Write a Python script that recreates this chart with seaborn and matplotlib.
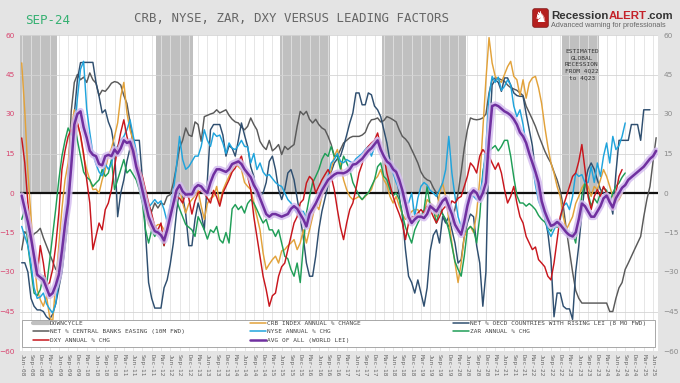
import numpy as np
import pandas as pd
import matplotlib
matplotlib.use("Agg")
import matplotlib.pyplot as plt
import matplotlib.patches as mpatches
import matplotlib.transforms as mtransforms
from matplotlib.lines import Line2D
from matplotlib.legend import Legend
from matplotlib import font_manager as fm
import seaborn as sns

# ---------------- DATA (monthly, starting Jun-2008) ----------------
START_MONTH = "2008-06"
END_MONTH = "2025-07"

DOWNCYCLE_PERIODS = [("2008-06", "2009-05"), ("2012-02", "2013-01"), ("2015-06", "2016-09"),
                     ("2018-03", "2020-05"), ("2023-01", "2023-12")]
DOWNCYCLE_LEVEL = 60

central_banks = [-21.6,-14.7,-16,-17.8,-15.5,-14.7,-13.4,-17,-20,-23,
 -26,-29,-30,-27,-15,5,31,42,45,43,
 44,42,45.6,43,41.7,37,39,38.6,40,41.7,
 42.3,42,41,37,34,27,18,11.4,9,5.7,
 0,-5,-7,-3.8,-5.7,-3.8,-4.4,-1.3,-0.6,3.8,
 10,17,20,24.7,22,21.5,27,26,19.6,29,
 29.5,30,30.4,31.6,30.4,31,31.6,29.5,28,27,
 26.6,25,24,25.3,28.5,26,24,19.6,17.7,16.5,
 20,16,17,18.4,14.6,17.7,16.5,17.5,18.4,25.3,
 31,29.7,31,28,26.6,28,26,24.7,24,21.5,
 18.4,14,14,16.5,19,20,21,21.5,21.5,21.5,
 22,23,26,27.8,28,28.5,27,27.5,29,28.5,
 27.8,27,24,21.5,20.5,19,16.5,14,11.4,8,
 6,5,4.5,2,0,-4,-8,-10.5,-12.7,-11.4,
 -6,0,8,17,24,28.5,28,27.8,28,28.5,
 30,38,43,43.7,43.5,43,42.4,41,40,39.5,
 39,38,37,33,30.5,28,25.3,22,19,16,
 13.5,11.4,8,5,1,-5,-14,-22,-30,-37,
 -40,-41.8,-41.8,-41.8,-41.8,-41.8,-41.8,-41.8,-41.8,-41.8,
 -45,-45,-40,-36,-34,-29,-26.6,-24,-21.5,-19,
 -16.5,-9,-2.5,2.5,12,21]

oecd_rising = [-26.5,-26.5,-30,-40,-43,-44.4,-44.4,-45,-47,-48,
 -46,-42,-36,-30,-20,-10,11,30,43,49.5,
 49.6,49.6,49.6,49.6,42,36.7,30.4,31.6,27,24,
 17,-9,0,5,12,17,20,20,20,5,
 -15,-34,-40,-43.7,-43.7,-43.7,-36,-33,-27,-19,
 -7.6,2,-1,-8,-20,-20,-10,-3.8,-8,-14,
 5,24,26,26,26,22,14,18,17,14,
 20,26.6,22,17.7,10,6.3,-1.3,-1,0,4,
 12,14,8.9,1.3,-2.5,1.3,7.6,8.9,5,-2,
 -9,-17,-26.6,-31.6,-31.6,-24,-14,-7,-2,3,
 8,11.4,13,14,17.7,22,26.6,30.4,38,38,
 33.5,33.5,38,37.3,33,31.6,29,24,19,12,
 10,8.9,-1.3,-9,-21.5,-31.6,-34,-38,-33,-38,
 -43,-36,-22,-16,-14,-19,-9,-11.4,-9,-14,
 -19,-26.6,-25.3,-16.5,-11.4,-8,-9,-20,-26.6,-43,
 -30,20,41,43,42,38.6,43.7,43.7,41,38,
 37,36.7,36.7,30,24,18,8,0,-5,-9,
 -15,-25,-47,-38,-38,-43,-44,-44,-48,-30,
 -20,-7.6,3.8,8.9,11.4,9,5,1.3,0,-1.3,
 -2.5,-8,7.6,20,20,20,20,26,26,26,
 20,31.6,31.6,31.6]

nyse = [-12.7,-16.5,-20,-26.6,-36,-40,-39.5,-38,-42,-44,
 -45.6,-42,-32,-22,-10,1,14,23,36,47,
 50,32,23,15,11,8,6.5,11,9,11,
 16.5,17.7,20,21.5,24,27.8,22,16,7,-2,
 -6,-5.5,-4,-2.5,-4,-3,-6.3,-11,-5,1,
 10,21.5,12.7,9,10,12,14,14,17.7,24,
 20,17.7,22.8,21.5,22,19,15,19,17,16.5,
 18,20,17.7,17.5,11.4,15,8.9,11.4,8,6.5,
 7,5.5,4,3,2.5,0,-2.5,-3.8,-6,-7.6,
 -7,-7,-10,-7,-6,-4,-1.5,2,4,6.3,
 11.4,12.7,15,12,11.5,12.7,12,11.4,13,14,
 15,16.5,17.7,14,17.5,20,17,14,11.4,9.5,
 7.6,4,1.5,-1.3,-3.8,-3.8,0,-9,-2,2.5,
 4,3,1,0,-1.3,1.3,3.8,8.9,21.5,7.6,
 -1.3,-9,-12.7,-10,-3,-1,-1.3,-2.5,-1,6.3,
 17.7,36.7,44.3,42,44,39,40.5,43,41,33,
 29,31.6,26,18,14.5,11,3,-3,-6,-9,
 -14,-16.5,-14,-11.4,-10,-5,-3.8,-6.3,-1.3,7.6,
 6.3,7,3.8,4,10,4,11.4,6.3,14,19,
 11.4,21.5,16.5,18,21.5,26.6]

crb = [49.4,31,8,-9,-25,-36.7,-40.5,-43,-39,-47,
 -49,-34,-20,-6,5,11.4,24,31.6,26.6,21.5,
 14,8.9,5,1.3,1.5,0,5,8.9,14,17,
 21.5,26.6,36.7,42,30.4,24,20,14,8,0,
 -6,-12,-14,-13,-12,-12,-14,-16,-9,-4,
 1,2.5,-3.8,-7.6,-4,-2.5,-1,1,-5,-10,
 -4,-2,-1.3,2.5,-4,1,3.8,6.3,8.9,11.4,
 10,8.9,4,2.5,1.3,-3.8,-9,-14,-22.8,-29,
 -27,-25.3,-24,-26.6,-22,-21.5,-20,-19,-17.7,-21.5,
 -19,-14,-19,-14,-9,-4,-6.3,-1.3,2,3.8,
 8.9,14,16.5,11,5,1.3,-1.3,-2.5,-2,-1.3,
 -2.5,-1.3,0,1.3,5,6.3,8.9,5,3,-1.3,
 -3.8,-1.3,-5,-8,-10,-9,-7,-6.3,-6.3,-9,
 -7.6,-2.5,-3.8,-5,-9,0,3.8,-1.3,-10,-19,
 -26.6,-34,-26.6,-16.5,-14,-12.7,-15,-7.6,5,24,
 43,59,49.4,44.3,43,42,45,48,50,44.3,
 43,37,43,36,41.8,43.7,44.3,40,34,25.3,
 17.7,11.4,7.6,2.5,-1.3,-9,-14,-11.4,-9,-4,
 -1.3,2,3.8,2.5,-1.3,2.5,1.3,5,8.9,6.3,
 2.5,-1.3,-3.8,-2.5,0]

dxy = [20.9,11.4,-3.8,-16.5,-26.6,-31.6,-20,-26.6,-35.4,-34,
 -29,-20,-7.6,8.9,16,21.5,24,22,26.6,22,
 15,5,-3.8,-21.5,-16.5,-11.4,-14,-6.3,-3.8,1.3,
 10,17,23,27.8,21.5,17,14,11.4,8.9,6.3,
 1.3,-3.8,-8,-12.7,-14,-11.4,-20,-14,-7,-5,
 -1.3,-2,-3.8,0,-2,-8,-3,0,1,0,
 -2,-3.8,1,-1.5,-5,0,2.5,5,8,9.5,
 12,14,9,6.3,1.3,-9,-16.5,-24,-31.6,-36.7,
 -43,-39,-38,-31.6,-28,-26.6,-21.5,-16.5,-11.4,-9,
 -3.8,-2.5,3.8,6.3,5,0,2.5,5,7,8.9,
 6.3,1.3,-6.3,-13,-17.7,-11.4,-6.3,-3.8,1.5,7.6,
 11,16,17.7,19,20,22.8,17.7,14,7.6,3,
 -1.3,-5,-8,-11.4,-17.7,-11.4,-9,-9,-7.6,-6.3,
 -7.6,-5,-6.3,-9,-11.4,-9,-6.3,-5,-6.3,-3,
 -3.8,-2,-1.3,2.5,6.3,11.4,10,7.6,14,16.5,
 15,14,11.4,9,11.4,7.6,1.3,-3.8,-1.3,2.5,
 -3.8,-9,-11.4,-16.5,-19,-21.5,-20.5,-25.3,-26.6,-28,
 -31.6,-33,-26.6,-17.7,-9,-5,-1.3,2.5,6.3,7.6,
 12,18.4,9,-1.3,-6.3,-1.3,1.3,-1.3,2.5,0,
 -2.5,-6.3,0,6.3,8.9]

zar = [-10,-6.3,-20,-29,-38,-39,-36.7,-31.6,-35.4,-26,
 -16,-6,5,14,20,24.7,22,26.6,20,14,
 8,6,5,2.5,3.8,5,8.9,6.3,7.6,12.7,
 1.3,5,8.9,12.7,7.6,8.9,7,5,1.3,-3.8,
 -14,-19,-14,-16.5,-14,-16.5,-20,-14,-9,-4,
 -2.5,-6,-9,-12,-13,-14,-16.5,-9,-11.4,-14,
 -17.5,-14,-15,-12.7,-17.7,-19,-15,-19,-6,-4.4,
 -6.3,-5,-7.6,-4,-2.5,-3.8,-6.3,-9,-11.4,-10,
 -14,-14,-16.5,-14,-19,-24,-25,-29,-31.6,-26.6,
 -34,-20,-7.6,-1.3,3.8,6.3,8.9,12.7,15,13.9,
 17.7,14,14,9,14,11.4,8.9,4,1.5,-1,
 -2.5,-1,0,2.5,5,10,11.4,6.3,5,1.3,
 -1,0,-2.5,-8,-13,-16,-19,-14,-11.4,-9,
 -6.3,2.5,-5,-6,-11.4,-6.3,-8,-10,-14,-20,
 -26,-29,-31.6,-24,-14,-12.7,-14,-19,-9,8,
 14,16,17,18,16,17.7,20,20,14,6,
 -1,-3.8,-3.8,-5,-4,-5,-6.3,-8.5,-10,-11,
 -13,-14.5,-12,-13,-12,-13,-14,-16.5,-15,-19,
 -9,-1,3.8,0,-5,-2,-3.8,0,2,1,
 -3.8,0,2.5,3.8,6,7.6]

avg_world_lei = [-1,-6,-11,-17,-24,-31,-32,-33,-36,-39,
 -38,-35,-31,-22,-12,-4,10,26,30,31,
 25,21,16,14.5,14,11,10.5,14,14.5,14,
 16.5,15,17,20,19,19.5,16,10,6,1,
 -4,-9,-12,-14.5,-15,-16,-18,-14,-9,-4,
 1,3,0.6,-0.6,-0.5,-0.5,2,3,2.5,1,
 0,4,7,9,9,8.5,8,9,11,11.5,
 12,11,9,7.5,6,3,1,-2,-5,-8,
 -9,-8,-8,-8.5,-9,-8.5,-8,-6,-5,-6,
 -8,-10,-12.7,-8,-6,-4,-1.5,1,3,5,
 6,7,7.6,7.6,7.5,8,9,10.8,11,12,
 13,14.5,16,17,18.5,20,16.5,14,12,11,
 9,8,5,1,-4,-9,-11.4,-10,-9,-9,
 -9.5,-8,-5,-6,-7,-5,-3,-2,-5,-8,
 -12,-14,-15.8,-11,-5,-0.5,1,0,-2.5,0,
 4,20,33,33.5,33,32,31,30.4,29.5,28,
 26,23,21.5,19,15,11.5,8,4,-3,-7,
 -10,-12.5,-12,-11,-12,-13.5,-15,-16,-16.5,-15,
 -10,-4,-5,-7,-9,-9,-7,-5,-2,-1,
 -3.5,-5.5,-2,0,2,3,5,6,7,8,
 9,10,11.5,13,14,16]

SERIES = [
    ("NET % CENTRAL BANKS EASING (10M FWD)", central_banks, "#5a5a5a"),
    ("NET % OECD COUNTRIES WITH RISING LEI (8 MO FWD)", oecd_rising, "#2f4f70"),
    ("CRB INDEX ANNUAL % CHANGE", crb, "#e2a23a"),
    ("ZAR ANNUAL % CHG", zar, "#1f9e57"),
    ("NYSE ANNUAL % CHG", nyse, "#20a4dc"),
    ("DXY ANNUAL % CHG", dxy, "#c8161d"),
]
AVG_LABEL = "AVG OF ALL (WORLD LEI)"
AVG_COLOR = "#7030a0"

TITLE = "CRB, NYSE, ZAR, DXY VERSUS LEADING FACTORS"
DATE_TAG = "SEP-24"
NOTE = "ESTIMATED\nGLOBAL\nRECESSION\nFROM 4Q22\nto 4Q23"

# ---------------- build frame ----------------
months = pd.period_range(START_MONTH, END_MONTH, freq="M")
n = len(months)
idx = np.arange(n)
labels = [p.strftime("%b-%y") for p in months]

def pad(vals):
    a = np.full(n, np.nan)
    a[:len(vals)] = vals
    return a

df = pd.DataFrame({"m": idx})
for name, vals, _ in SERIES:
    df[name] = pad(vals)
df[AVG_LABEL] = pad(avg_world_lei)
down = np.zeros(n)
for s, e in DOWNCYCLE_PERIODS:
    a = months.get_loc(pd.Period(s, "M"))
    b = months.get_loc(pd.Period(e, "M"))
    down[a:b + 1] = DOWNCYCLE_LEVEL
df["DOWNCYCLE"] = down

# ---------------- figure ----------------
sns.set_style("white")
plt.rcParams["font.family"] = ["DejaVu Sans"]
MONO = "DejaVu Sans Mono"

W, H = 680, 383
fig = plt.figure(figsize=(W / 100, H / 100), dpi=100, facecolor="#e4e4e4")
ax = fig.add_axes([20 / W, 1 - 351 / H, 638 / W, 316 / H])
ax.set_facecolor("white")

# downcycle bars
ax.bar(df["m"], df["DOWNCYCLE"], width=1.0, color="#c0c0c0", linewidth=0, zorder=0.3)

# grid
ax.set_axisbelow(True)
ax.set_xticks(idx[::3])
ax.set_yticks(np.arange(-60, 61, 15))
ax.grid(True, axis="y", color="#d4d4d4", lw=0.6)
ax.grid(True, axis="x", color="#e2e2e2", lw=0.6)
ax.axhline(0, color="#111111", lw=1.6, zorder=1.5)

for name, vals, col in SERIES:
    sns.lineplot(data=df, x="m", y=name, ax=ax, color=col, lw=1.05, zorder=2, legend=False)
sns.lineplot(data=df, x="m", y=AVG_LABEL, ax=ax, color="#d4bcef", lw=5.0, alpha=0.85, zorder=2.8, legend=False)
sns.lineplot(data=df, x="m", y=AVG_LABEL, ax=ax, color=AVG_COLOR, lw=1.8, zorder=3, legend=False)

ax.set_xlim(-0.55, 205.6)
ax.set_ylim(-60, 60)
ax.set_xlabel("")
ax.set_ylabel("")
for sp in ax.spines.values():
    sp.set_visible(False)

ax.set_xticklabels(labels[::3], rotation=270, fontsize=4.4, family=MONO, color="#666666")
ax.tick_params(axis="x", length=0, pad=2)
ax.tick_params(axis="y", length=0, labelleft=True, labelright=True, labelsize=5.3, pad=4)
for t in ax.yaxis.get_major_ticks():
    t.label1.set_color("#d8436e")
    t.label2.set_color("#8a8a8a")

# annotation
ax.text(181, 54.5, NOTE, ha="center", va="top", fontsize=4.4, family=MONO, color="#333333",
        linespacing=1.35, zorder=4)

# legend frame
px = mtransforms.IdentityTransform()
frame = mpatches.Rectangle((22, H - 347), 633, 27.5, transform=px, facecolor="white",
                           edgecolor="#9a9a9a", lw=0.6, zorder=4.8, clip_on=False)
ax.add_artist(frame)

handles = {"DOWNCYCLE": Line2D([], [], color="#c0c0c0", lw=3)}
for name, _, col in SERIES:
    handles[name] = Line2D([], [], color=col, lw=1.1)
handles[AVG_LABEL] = Line2D([], [], color=AVG_COLOR, lw=1.8)

columns = [
    (33, ["DOWNCYCLE", "NET % CENTRAL BANKS EASING (10M FWD)", "DXY ANNUAL % CHG"]),
    (250, ["CRB INDEX ANNUAL % CHANGE", "NYSE ANNUAL % CHG", AVG_LABEL]),
    (453, ["NET % OECD COUNTRIES WITH RISING LEI (8 MO FWD)", "ZAR ANNUAL % CHG"]),
]
for xpix, keys in columns:
    leg = Legend(ax, [handles[k] for k in keys], keys, loc="upper left",
                 bbox_to_anchor=(xpix / W, 1 - 321 / H), bbox_transform=fig.transFigure,
                 frameon=False, borderpad=0, borderaxespad=0, handlelength=2.6,
                 handletextpad=0.15, labelspacing=0.48,
                 prop={"family": MONO, "size": 4.4})
    for t in leg.get_texts():
        t.set_color("#444444")
    leg.set_zorder(5)
    ax.add_artist(leg)

# titles
fig.text(25 / W, 1 - 20 / H, DATE_TAG, fontsize=9, family=MONO, color="#35b071", va="center", ha="left")
fig.text(292 / W, 1 - 19 / H, TITLE, fontsize=8.9, family=MONO, color="#666666", va="center", ha="center")

# logo
renderer = fig.canvas.get_renderer()
icon = mpatches.FancyBboxPatch((533, H - 27), 15, 18, boxstyle="round,pad=0.3,rounding_size=2",
                               transform=px, facecolor="#b5201f", edgecolor="#7a1010", lw=0.5)
fig.patches.append(icon)
fig.text(540.5, H - 18, "\u265e", transform=px, fontsize=11, color="white", ha="center", va="center",
         family="DejaVu Sans")

logo_font = "Liberation Sans"
try:
    fm.findfont(fm.FontProperties(family="Liberation Sans Narrow"), fallback_to_default=False)
    logo_font = "Liberation Sans Narrow"
    lsize, ssize = 10.5, 6.6
except Exception:
    lsize, ssize = 8.2, 5.2

x = 551
for s, c in [("Recession", "#333333"), ("ALERT", "#c4222a"), (".com", "#333333")]:
    t = fig.text(x, H - 19, s, transform=px, fontsize=lsize, family=logo_font, weight="bold",
                 color=c, ha="left", va="baseline")
    x = t.get_window_extent(renderer).x1
fig.text(551, H - 27, "Advanced warning for professionals", transform=px, fontsize=ssize,
         family=logo_font, color="#666666", ha="left", va="baseline")

fig.savefig("out.png", dpi=100, facecolor=fig.get_facecolor())
